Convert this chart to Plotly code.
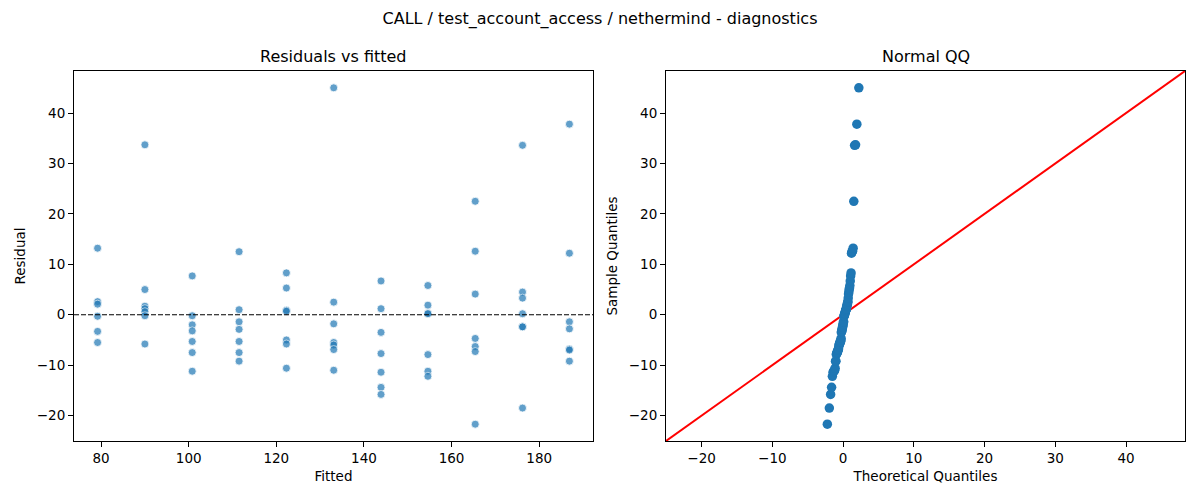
#!/usr/bin/env python3
"""
CALL / test_account_access / nethermind - 회귀 진단 플롯
  - 왼쪽: Residuals vs fitted
  - 오른쪽: Normal QQ (45도 기준선)
  - 결과: out.html
"""

from statistics import NormalDist

import plotly.graph_objects as go
from plotly.subplots import make_subplots

# 페이지 body 기본 여백(8px) 보정
OFF = 8
W, H = 1200 - 2 * OFF, 500 - 2 * OFF
FONT = "DejaVu Sans"
BLUE = "#1f77b4"

# ─── 데이터 ───────────────────────────────────────────────────────────

FITTED_LEVELS = [79.2, 90.0, 100.8, 111.5, 122.3, 133.1, 143.9, 154.6, 165.4, 176.2, 186.9]

RESIDUALS_BY_LEVEL = [
    [13.2, 2.6, 2.1, -0.3, -3.3, -5.5],
    [33.7, 5.0, 1.7, 1.2, 0.6, -0.2, -5.8],
    [7.7, -0.2, -2.0, -3.2, -5.3, -7.5, -11.2],
    [12.5, 1.0, -1.4, -2.9, -5.3, -7.5, -9.2],
    [8.3, 5.3, 0.9, 0.7, -5.0, -5.8, -10.6],
    [45.0, 2.5, -1.8, -5.5, -6.0, -6.9, -11.0],
    [6.7, 1.2, -3.5, -7.7, -11.4, -14.4, -15.8],
    [5.8, 1.9, 0.3, 0.2, -7.9, -11.2, -12.2],
    [22.5, 12.6, 4.1, -4.7, -6.3, -7.3, -21.7],
    [33.6, 4.5, 3.3, 0.2, -2.4, -2.4, -18.5],
    [37.8, 12.2, -1.4, -2.8, -6.8, -7.0, -9.2],
]

FITTED_TICKS = [80, 100, 120, 140, 160, 180]
RESID_TICKS = [-20, -10, 0, 10, 20, 30, 40]
QQ_X_TICKS = [-20, -10, 0, 10, 20, 30, 40]


def padded(lo, hi, frac=0.05):
    pad = (hi - lo) * frac
    return [lo - pad, hi + pad]


def px_x(p):
    return (p - OFF) / W


def px_y(p):
    return 1 - (p - OFF) / H


def main():
    fitted, resid = [], []
    for lvl, vals in zip(FITTED_LEVELS, RESIDUALS_BY_LEVEL):
        for v in vals:
            fitted.append(lvl)
            resid.append(v)

    # QQ: 정렬된 잔차 vs 정규 이론 분위수 (plotting position i/(n+1))
    n = len(resid)
    sample_q = sorted(resid)
    theo_q = [NormalDist().inv_cdf(i / (n + 1)) for i in range(1, n + 1)]

    x_range = padded(min(fitted), max(fitted))
    y_range = padded(min(resid), max(resid))
    t_range = padded(min(theo_q), max(theo_q))
    qq_range = [min(y_range[0], t_range[0]), max(y_range[1], t_range[1])]

    fig = make_subplots(rows=1, cols=2, subplot_titles=["Residuals vs fitted", "Normal QQ"])

    # ── Residuals vs fitted ──────────────────────────────────────────────────
    fig.add_trace(go.Scatter(
        x=fitted, y=resid, mode="markers",
        marker=dict(color=BLUE, size=8, opacity=0.7, line=dict(width=0.8, color="white")),
        showlegend=False,
    ), row=1, col=1)
    fig.add_trace(go.Scatter(
        x=x_range, y=[0, 0], mode="lines",
        line=dict(color="black", width=1.1, dash="5px,2px"),
        showlegend=False, hoverinfo="skip",
    ), row=1, col=1)

    # ── Normal QQ ────────────────────────────────────────────────────────────
    fig.add_trace(go.Scatter(
        x=qq_range, y=qq_range, mode="lines",
        line=dict(color="red", width=2),
        showlegend=False, hoverinfo="skip",
    ), row=1, col=2)
    fig.add_trace(go.Scatter(
        x=theo_q, y=sample_q, mode="markers",
        marker=dict(color=BLUE, size=9.5, line=dict(width=0)),
        showlegend=False,
    ), row=1, col=2)

    # 축 위치 (화면 픽셀 → paper 좌표)
    dom_y = [px_y(441), px_y(71)]
    dom_x1 = [px_x(74), px_x(593)]
    dom_x2 = [px_x(666), px_x(1185)]

    axis_common = dict(
        showgrid=False, zeroline=False, showline=True, linecolor="black", linewidth=1,
        mirror=True, ticks="outside", ticklen=5, tickwidth=1, tickcolor="black",
        tickfont=dict(family=FONT, size=13.5, color="black"), automargin=False,
    )
    title_font = dict(family=FONT, size=13.5, color="black")

    fig.update_xaxes(domain=dom_x1, range=x_range, tickvals=FITTED_TICKS,
                     title=dict(text="Fitted", font=title_font, standoff=6),
                     row=1, col=1, **axis_common)
    fig.update_yaxes(domain=dom_y, range=y_range, tickvals=RESID_TICKS,
                     title=dict(text="Residual", font=title_font, standoff=8),
                     row=1, col=1, **axis_common)
    fig.update_xaxes(domain=dom_x2, range=qq_range, tickvals=QQ_X_TICKS,
                     title=dict(text="Theoretical Quantiles", font=title_font, standoff=6),
                     row=1, col=2, **axis_common)
    fig.update_yaxes(domain=dom_y, range=qq_range, tickvals=RESID_TICKS,
                     title=dict(text="Sample Quantiles", font=title_font, standoff=8),
                     row=1, col=2, **axis_common)

    # 서브플롯 제목 위치 조정
    for ann, dom in zip(fig.layout.annotations, [dom_x1, dom_x2]):
        ann.update(x=(dom[0] + dom[1]) / 2, y=px_y(56), yanchor="middle",
                   font=dict(family=FONT, size=16, color="black"))

    fig.update_layout(
        title=dict(
            text="CALL / test_account_access / nethermind - diagnostics",
            x=px_x(600), xanchor="center", y=px_y(18), yanchor="middle",
            font=dict(family=FONT, size=16, color="black"),
        ),
        width=W, height=H,
        margin=dict(l=0, r=0, t=0, b=0),
        plot_bgcolor="white", paper_bgcolor="white",
        font=dict(family=FONT, color="black"),
    )

    fig.write_html("out.html")


if __name__ == "__main__":
    main()
